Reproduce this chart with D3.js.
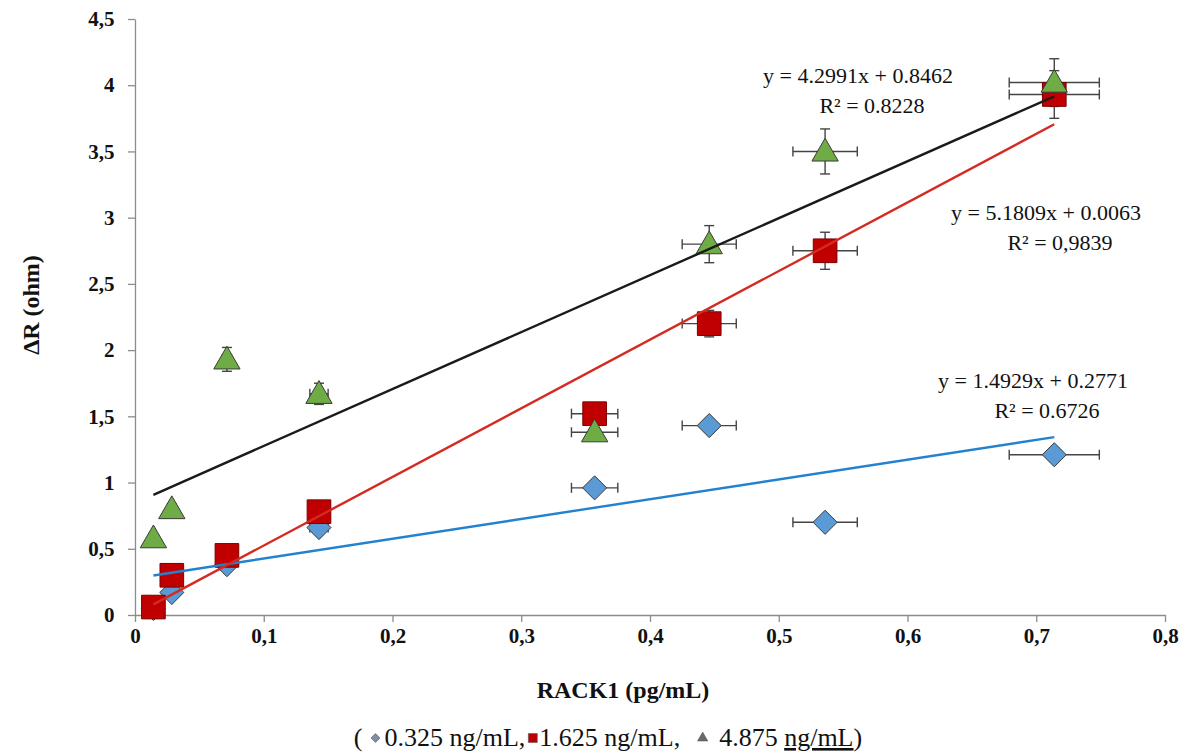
<!DOCTYPE html>
<html>
<head>
<meta charset="utf-8">
<script src="https://cdn.jsdelivr.net/npm/d3@7"></script>
<style>
  body { margin: 0; background: #fff; }
</style>
</head>
<body>
<svg id="chart" width="1194" height="756"></svg>
<script>
// RACK1 concentration (pg/mL)
let xValues = [0.0143, 0.0286, 0.0714, 0.1429, 0.357, 0.446, 0.536, 0.714];

// dR (ohm) per probe concentration
let blueValues  = [0.05, 0.17, 0.38, 0.66, 0.96, 1.43, 0.70, 1.21];
let redValues   = [0.06, 0.30, 0.45, 0.78, 1.52, 2.20, 2.75, 3.93];
let greenValues = [0.58, 0.80, 1.93, 1.67, 1.38, 2.80, 3.50, 4.02];

let blueErr  = [0.02, 0.02, 0.03, 0.03, 0.04, 0.05, 0.04, 0.05];
let redErr   = [0.02, 0.03, 0.04, 0.05, 0.07, 0.10, 0.14, 0.18];
let greenErr = [0.03, 0.04, 0.09, 0.08, 0.06, 0.14, 0.17, 0.18];
let xErr     = [0.0007, 0.0014, 0.0036, 0.0071, 0.018, 0.021, 0.025, 0.035];

let xTicks = [0, 0.1, 0.2, 0.3, 0.4, 0.5, 0.6, 0.7, 0.8];
let yTicks = [0, 0.5, 1, 1.5, 2, 2.5, 3, 3.5, 4, 4.5];

let fits = [
    {name: 'blue',  slope: 1.4929, icpt: 0.2771, eq: 'y = 1.4929x + 0.2771', r2: 'R² = 0.6726', color: '#2382cf', lx: 1033, ly: 388},
    {name: 'red',   slope: 5.1809, icpt: 0.0063, eq: 'y = 5.1809x + 0.0063', r2: 'R² = 0,9839', color: '#d42a22', lx: 1046, ly: 220},
    {name: 'black', slope: 4.2991, icpt: 0.8462, eq: 'y = 4.2991x + 0.8462', r2: 'R² = 0.8228', color: '#1a1a1a', lx: 858,  ly: 83}
];

let series = [
    {name: 'blue',  values: blueValues,  err: blueErr,  fill: '#5b9bd5', shape: 'diamond'},
    {name: 'red',   values: redValues,   err: redErr,   fill: '#c00000', shape: 'square'},
    {name: 'green', values: greenValues, err: greenErr, fill: '#6fac46', shape: 'triangle'}
];

let serif = '"Liberation Serif", "DejaVu Serif", "Times New Roman", Times, serif';
let margin = {top: 19, left: 135, right: 29, bottom: 141};
let width = 1194, height = 756;
let svg = d3.select('#chart');

let x = d3.scaleLinear().domain([0, 0.8]).range([margin.left, width - margin.right]);
let y = d3.scaleLinear().domain([0, 4.5]).range([height - margin.bottom, margin.top]);

let fmt = d => String(d).replace('.', ',');

// axes
let xAxis = svg.append('g')
    .attr('transform', 'translate(0,' + y(0) + ')')
    .call(d3.axisBottom(x).tickValues(xTicks).tickFormat(fmt).tickSize(7).tickSizeOuter(0));
let yAxis = svg.append('g')
    .attr('transform', 'translate(' + x(0) + ',0)')
    .call(d3.axisLeft(y).tickValues(yTicks).tickFormat(fmt).tickSize(7).tickSizeOuter(0));
[xAxis, yAxis].forEach(a => {
    a.attr('font-family', serif);
    a.select('.domain').attr('stroke', '#8c8c8c').attr('stroke-width', 1.3);
    a.selectAll('.tick line').attr('stroke', '#8c8c8c').attr('stroke-width', 1.3);
    a.selectAll('.tick text')
        .attr('fill', '#111')
        .attr('font-size', 21)
        .attr('font-weight', 'bold');
});
xAxis.selectAll('.tick text').attr('dy', '0.85em');
yAxis.selectAll('.tick text').attr('dx', '-0.5em');

// error bars
let errG = svg.append('g');
series.forEach(s => {
    s.values.forEach((v, i) => {
        let cx = x(xValues[i]), cy = y(v);
        let xl = x(xValues[i] - xErr[i]), xr = x(xValues[i] + xErr[i]);
        let yl = y(v - s.err[i]), yh = y(v + s.err[i]);
        let g = errG.append('g').attr('stroke', '#444').attr('stroke-width', 1.4);
        g.append('line').attr('x1', xl).attr('x2', xr).attr('y1', cy).attr('y2', cy);
        g.append('line').attr('x1', xl).attr('x2', xl).attr('y1', cy - 5).attr('y2', cy + 5);
        g.append('line').attr('x1', xr).attr('x2', xr).attr('y1', cy - 5).attr('y2', cy + 5);
        g.append('line').attr('x1', cx).attr('x2', cx).attr('y1', yl).attr('y2', yh);
        g.append('line').attr('x1', cx - 5).attr('x2', cx + 5).attr('y1', yl).attr('y2', yl);
        g.append('line').attr('x1', cx - 5).attr('x2', cx + 5).attr('y1', yh).attr('y2', yh);
    });
});

let shapes = {
    diamond: d3.symbol().type(d3.symbolDiamond2).size(370),
    square: d3.symbol().type(d3.symbolSquare).size(560),
    triangle: d3.symbol().type(d3.symbolTriangle).size(300)
};

// markers
series.forEach(s => {
    svg.append('g').selectAll('path').data(s.values).enter().append('path')
        .attr('transform', (d, i) => 'translate(' + x(xValues[i]) + ',' + (y(d) + (s.shape === 'triangle' ? 2 : 0)) + ')')
        .attr('d', shapes[s.shape])
        .attr('fill', s.fill)
        .attr('stroke', s.shape === 'square' ? '#7a0000' : '#3a3a3a')
        .attr('stroke-width', 1);
});

// trend lines + equations
let x0 = d3.min(xValues), x1 = d3.max(xValues);
fits.forEach(f => {
    svg.append('line')
        .attr('x1', x(x0)).attr('y1', y(f.slope * x0 + f.icpt))
        .attr('x2', x(x1)).attr('y2', y(f.slope * x1 + f.icpt))
        .attr('stroke', f.color).attr('stroke-width', 2.4);
    svg.append('text').attr('x', f.lx).attr('y', f.ly).attr('text-anchor', 'middle')
        .attr('font-family', serif).attr('font-size', 22).attr('fill', '#111').text(f.eq);
    svg.append('text').attr('x', f.lx + 14).attr('y', f.ly + 30).attr('text-anchor', 'middle')
        .attr('font-family', serif).attr('font-size', 22).attr('fill', '#111').text(f.r2);
});

// axis titles
svg.append('text').attr('x', 623).attr('y', 698).attr('text-anchor', 'middle')
    .attr('font-family', serif).attr('font-size', 24).attr('font-weight', 'bold').attr('fill', '#111').text('RACK1 (pg/mL)');
svg.append('text').attr('transform', 'translate(39,305) rotate(-90)').attr('text-anchor', 'middle')
    .attr('font-family', serif).attr('font-size', 24).attr('font-weight', 'bold').attr('fill', '#111').text('ΔR (ohm)');

// legend line under the axis: text pieces and small glyphs laid out in sequence
let legendItems = [
    {type: 'text', t: '(', gap: 8},
    {type: 'mark', shape: d3.symbolDiamond2, size: 50, fill: '#7f8fa8', w: 10, gap: 4},
    {type: 'text', t: '0.325 ng/mL,', gap: 3},
    {type: 'mark', shape: d3.symbolSquare, size: 80, fill: '#c00000', w: 9, gap: 2},
    {type: 'text', t: '1.625 ng/mL,', gap: 18},
    {type: 'mark', shape: d3.symbolTriangle, size: 45, fill: '#6a6a6a', w: 9, gap: 12},
    {type: 'text', t: '4.875 ', gap: 0},
    {type: 'text', t: 'ng/mL', wavy: true, gap: 0},
    {type: 'text', t: ')', gap: 0}
];
let legend = svg.append('g');
let cursor = 0;
legendItems.forEach(d => {
    if (d.type === 'text') {
        let t = legend.append('text').attr('x', cursor).attr('y', 746)
            .attr('font-family', serif).attr('font-size', 26).attr('fill', '#111')
            .style('white-space', 'pre').text(d.t);
        if (d.wavy) t.style('text-decoration', 'underline wavy #d04040');
        cursor += t.node().getComputedTextLength() + d.gap;
    } else {
        legend.append('path')
            .attr('transform', 'translate(' + (cursor + d.w / 2) + ',738)')
            .attr('d', d3.symbol().type(d.shape).size(d.size)())
            .attr('fill', d.fill).attr('stroke', '#555').attr('stroke-width', 0.6);
        cursor += d.w + d.gap;
    }
});
legend.attr('transform', 'translate(' + (608 - cursor / 2) + ',0)');
</script>
</body>
</html>
